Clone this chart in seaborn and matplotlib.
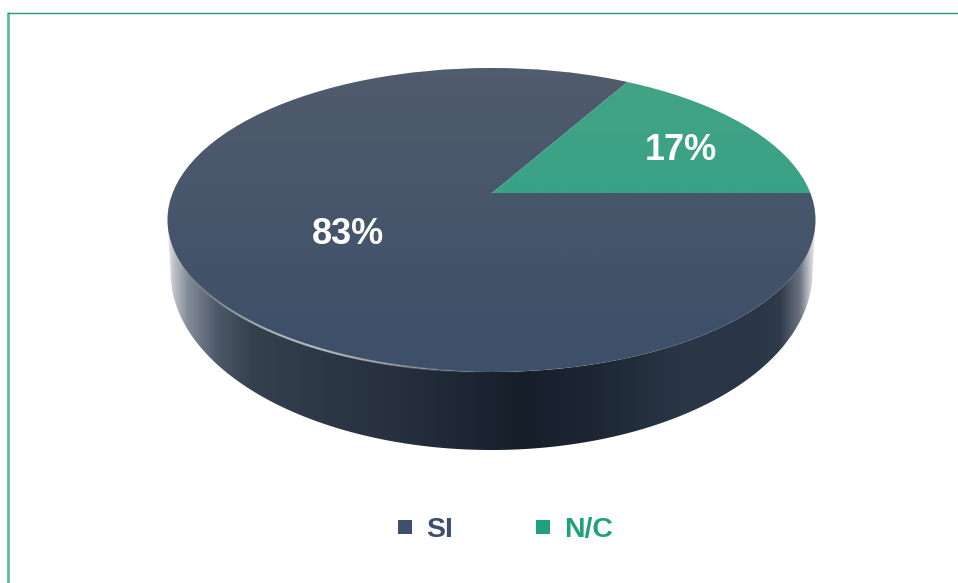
import numpy as np
import seaborn as sns
import matplotlib
matplotlib.use("Agg")
import matplotlib.pyplot as plt
from matplotlib.collections import LineCollection
from matplotlib.colors import LinearSegmentedColormap
from matplotlib.lines import Line2D
from matplotlib.patches import Ellipse, Polygon

labels = ["SI", "N/C"]
values = [83, 17]
colors = ["#3e5069", "#2ea486"]
legend_colors = ["#3c4f6b", "#21a07e"]

sns.set_theme(style="white")
plt.rcParams["font.family"] = ["Liberation Sans", "DejaVu Sans"]

W, H = 958, 583
fig = plt.figure(figsize=(W / 100, H / 100), dpi=100, facecolor="white")


# axes in image pixels, easier to line up with the reference
def pixel_axes(zorder):
    a = fig.add_axes([0, 0, 1, 1], zorder=zorder)
    a.set_xlim(0, W)
    a.set_ylim(H, 0)
    a.axis("off")
    return a


ax_back = pixel_axes(1)
ax_pie = fig.add_axes([0, 0, 1, 1], zorder=2)
ax_over = pixel_axes(3)

# frame, only left and top
ax_back.add_line(Line2D([8.5, 8.5], [12.5, H], color="#5dbba1", lw=2))
ax_back.add_line(Line2D([8.5, W], [12.5, 12.5], color="#1f9e7c", lw=1))

# top face and bottom outline of the disc
cx, cy, a_top, b_top = 491.5, 220, 324, 152
bx, by, a_bot, b_bot = 491.5, 272, 321, 178

# side wall, shaded left to right
t = np.radians(np.linspace(0, 180, 200))
top_arc = np.column_stack([cx + a_top * np.cos(t), cy + b_top * np.sin(t)])
bot_arc = np.column_stack([bx + a_bot * np.cos(t), by + b_bot * np.sin(t)])
wall = Polygon(np.vstack([top_arc, bot_arc[::-1]]), transform=ax_back.transData,
               fc="none", ec="none")
ax_back.add_patch(wall)
side_cmap = LinearSegmentedColormap.from_list("side", [
    (0.00, "#e4e6e9"), (0.008, "#c0c4ca"), (0.03, "#848c98"), (0.076, "#4d5868"),
    (0.127, "#36414f"), (0.25, "#2c3746"), (0.40, "#232c3a"), (0.55, "#161e29"),
    (0.66, "#1d2733"), (0.80, "#2a3747"), (0.90, "#2a3646"), (0.946, "#2f3a4a"),
    (0.977, "#6a727e"), (0.992, "#c0c3c8"), (1.00, "#e8e9eb"),
], N=2048)
im = ax_back.imshow(np.linspace(0, 1, 1294)[None, :], cmap=side_cmap, aspect="auto",
                    interpolation="bilinear", extent=(168, 815, 460, 200), zorder=2)
im.set_clip_path(wall)
ax_back.set_xlim(0, W)
ax_back.set_ylim(H, 0)

# pie drawn big around the apex and cut by the tilted ellipse
apex_x, apex_y = 492, 193
sx, sy = 324, 146
wedges, _ = ax_pie.pie(values, colors=colors, startangle=360 * values[1] / sum(values),
                       radius=1.7, center=(0, 0), wedgeprops=dict(linewidth=0))
ax_pie.set_aspect("auto")
ax_pie.set_xlim(-apex_x / sx, (W - apex_x) / sx)
ax_pie.set_ylim((apex_y - H) / sy, apex_y / sy)
ax_pie.patch.set_alpha(0)

face = Ellipse((cx, cy), 2 * a_top, 2 * b_top, transform=ax_back.transData, fc="none", ec="none")
for w in wedges:
    # pie turns clipping off on its wedges
    w.set_clip_on(True)
    w.set_clip_path(face)

# soft warm light from the top of the face
shade = np.ones((200, 1, 4))
shade[:, 0, :3] = (0.68, 0.60, 0.50)
shade[:, 0, 3] = np.clip(np.linspace(0.17, -0.02, 200), 0, None)
ov = ax_over.imshow(shade, aspect="auto", extent=(168, 815, 372, 68), zorder=1)
ov.set_clip_path(Ellipse((cx, cy), 2 * a_top, 2 * b_top, transform=ax_over.transData))
ax_over.set_xlim(0, W)
ax_over.set_ylim(H, 0)

# thin highlight on the front rim
ang = np.radians(np.linspace(90, 160, 120))
rim_x = cx + a_top * np.cos(ang)
rim_y = cy + b_top * np.sin(ang)
pts = np.column_stack([rim_x, rim_y]).reshape(-1, 1, 2)
segs = np.concatenate([pts[:-1], pts[1:]], axis=1)
rim_alpha = np.sin(np.linspace(0, np.pi, len(segs))) ** 1.5 * 0.75
rim_colors = np.column_stack([np.full((len(segs), 3), 0.85), rim_alpha])
ax_over.add_collection(LineCollection(segs, colors=rim_colors, linewidths=1.6, zorder=2))

# percent labels
ax_over.text(348, 234, f"{values[0]}%", color="white", fontsize=26, fontweight="bold",
             ha="center", va="center", zorder=3)
ax_over.text(681, 150, f"{values[1]}%", color="white", fontsize=26, fontweight="bold",
             ha="center", va="center", zorder=3)

handles = [Line2D([], [], ls="none", marker="s", ms=10, mfc=c, mec=c, mew=0) for c in legend_colors]
ax_over.legend(handles, labels, loc="center", bbox_to_anchor=(505.5 / W, 1 - 530 / H), ncol=2,
               frameon=False, labelcolor=legend_colors,
               prop=dict(family="Liberation Sans", weight="bold", size=20.5),
               handlelength=0.5, handletextpad=0.5, columnspacing=2.9, borderpad=0)

fig.savefig("out.png", dpi=100)
